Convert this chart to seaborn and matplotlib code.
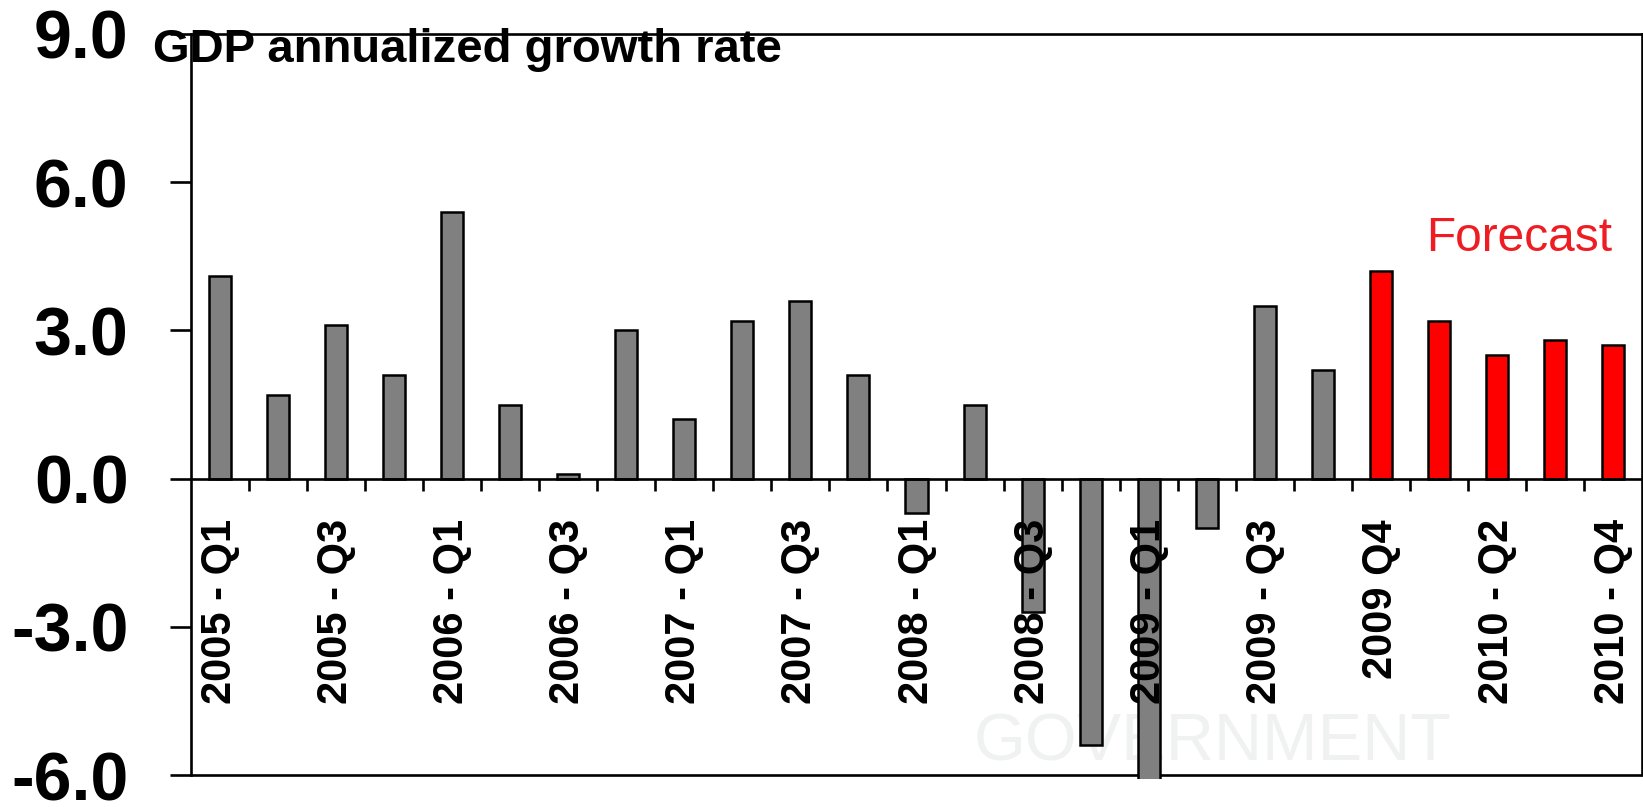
import matplotlib
matplotlib.use("Agg")
import matplotlib.pyplot as plt
import seaborn as sns
import pandas as pd
from matplotlib.ticker import FuncFormatter

# ---- data ----
quarters = ["2005 - Q1", "2005 - Q2", "2005 - Q3", "2005 - Q4",
            "2006 - Q1", "2006 - Q2", "2006 - Q3", "2006 - Q4",
            "2007 - Q1", "2007 - Q2", "2007 - Q3", "2007 - Q4",
            "2008 - Q1", "2008 - Q2", "2008 - Q3", "2008 - Q4",
            "2009 - Q1", "2009 - Q2", "2009 - Q3", "2009 - Q4",
            "2009 Q4", "2010 - Q1", "2010 - Q2", "2010 - Q3", "2010 - Q4"]
growth = [4.1, 1.7, 3.1, 2.1,
          5.4, 1.5, 0.1, 3.0,
          1.2, 3.2, 3.6, 2.1,
          -0.7, 1.5, -2.7, -5.4,
          -6.4, -1.0, 3.5, 2.2,
          4.2, 3.2, 2.5, 2.8, 2.7]
status = ["Actual"] * 20 + ["Forecast"] * 5
y_ticks = [-6.0, -3.0, 0.0, 3.0, 6.0, 9.0]
title_text = "GDP annualized growth rate"
forecast_note = "Forecast"

# ---- style ----
sns.set_theme(style="white")
plt.rcParams["font.family"] = ["Liberation Sans", "DejaVu Sans"]
plt.rcParams["font.weight"] = "bold"

W, H = 1643, 807
fig = plt.figure(figsize=(W / 100, H / 100), dpi=100)
fig.patch.set_facecolor("white")
ax = fig.add_axes([191 / W, 1 - 779 / H, (1642 - 191) / W, (779 - 34) / H])
ax.set_facecolor("white")

df = pd.DataFrame({"quarter": quarters, "growth": growth, "status": status})
sns.barplot(data=df, x="quarter", y="growth", hue="status",
            palette={"Actual": "#808080", "Forecast": "#ff0000"},
            dodge=False, width=0.38, saturation=1,
            edgecolor="black", linewidth=1.8, legend=False, ax=ax)

ax.set_xlim(-0.5, len(quarters) - 0.5)
ax.set_ylim(-6.08, 9)
ax.set_xlabel("")
ax.set_ylabel("")

# frame
lw = 1.9
for s in ["left", "right", "top", "bottom"]:
    ax.spines[s].set_visible(True)
    ax.spines[s].set_color("black")
    ax.spines[s].set_linewidth(lw)
ax.spines["left"].set_bounds(-6, 9)
ax.spines["right"].set_bounds(-6, 9)
ax.spines["bottom"].set_position(("data", 0))
ax.axhline(-6, color="black", lw=lw, zorder=0.8)

# y axis
ax.set_yticks(y_ticks)
ax.yaxis.set_major_formatter(FuncFormatter(lambda v, _: f"{v:.1f}"))
ax.tick_params(axis="y", which="major", left=True, direction="out",
               length=15, width=lw, labelsize=49, pad=30, colors="black")

# x axis
ax.set_xticks(range(0, len(quarters), 2))
ax.set_xticklabels(quarters[::2], rotation=90)
ax.set_xticks([i + 0.5 for i in range(len(quarters) - 1)], minor=True)
ax.tick_params(axis="x", which="major", bottom=True, length=0, pad=29,
               labelsize=30, colors="black")
ax.tick_params(axis="x", which="minor", bottom=True, direction="out",
               length=8.5, width=lw, color="black")
for lbl in ax.get_xticklabels():
    lbl.set_verticalalignment("top")
ax.xaxis.set_zorder(5)

# watermark
ax.text(17.1, -5.37, "GOVERNMENT", color="#f0f2f2", fontsize=48,
        fontweight="normal", ha="center", va="center", zorder=0)

# annotations
ax.text(23.98, 4.60, forecast_note, color="#ee1d23", fontsize=34.5,
        fontweight="normal", ha="right", va="baseline")
fig.text(153 / W, 1 - 62 / H, title_text, fontsize=34, fontweight="bold",
         ha="left", va="baseline", color="black")

fig.savefig("out.png", dpi=100)
